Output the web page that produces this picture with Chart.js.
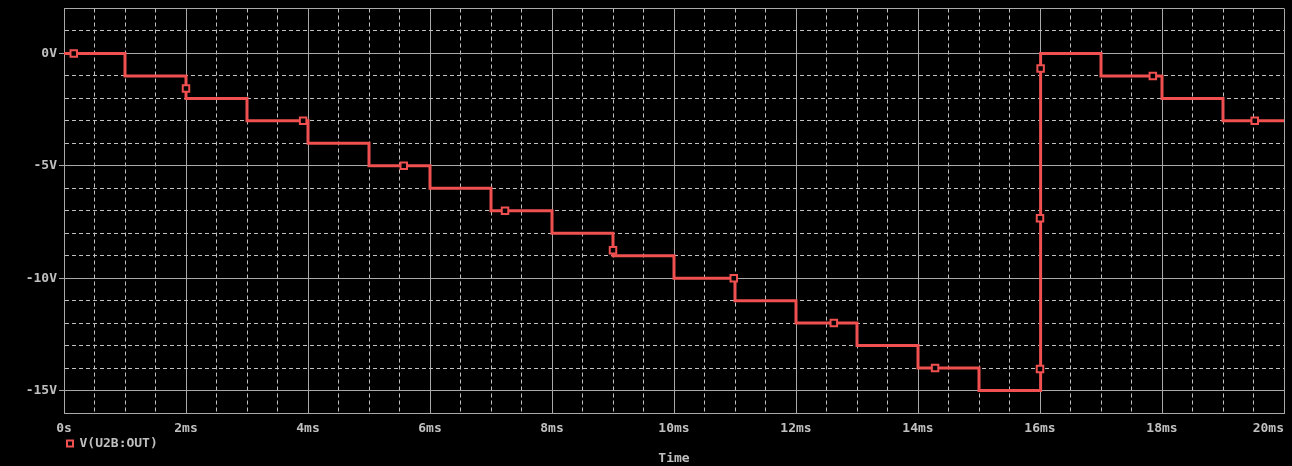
<!DOCTYPE html>
<html>
<head>
<meta charset="utf-8">
<script src="https://cdn.jsdelivr.net/npm/chart.js@4/dist/chart.umd.min.js"></script>
<style>
  html, body { margin: 0; padding: 0; background: #000; overflow: hidden; }
  #wrap { width: 1292px; height: 466px; }
</style>
</head>
<body>
<div id="wrap"><canvas id="grafico"></canvas></div>
<script>
// dados da forma de onda (tempo em ms, tensão em V)
const stepTimes  = [0, 1, 2, 3, 4, 5, 6, 7, 8, 9, 10, 11, 12, 13, 14, 15, 16.01, 17, 18, 19, 20];
const stepLevels = [0, -1, -2, -3, -4, -5, -6, -7, -8, -9, -10, -11, -12, -13, -14, -15, 0, -1, -2, -3, -3];

// marcadores quadrados que o PSpice desenha sobre o traço
const markerTimes  = [0.16, 2.0, 3.92, 5.57, 7.23, 9.0, 10.98, 12.62, 14.28, 16.0, 16.0, 16.01, 17.85, 19.52];
const markerValues = [0, -1.56, -3, -5, -7, -8.76, -10, -12, -14, -14.04, -7.33, -0.67, -1, -3];

const xTickLabels = ['0s', '2ms', '4ms', '6ms', '8ms', '10ms', '12ms', '14ms', '16ms', '18ms', '20ms'];
const yTickLabels = ['0V', '-5V', '-10V', '-15V'];
const yTickValues = [0, -5, -10, -15];

const traceName = 'V(U2B:OUT)';
const traceColor = '#f05050';
const textColor = '#c0c0c0';
const solidGrid = '#a8a8a8';
const dashGrid = '#c0c0c0';
const fonte = "'DejaVu Sans Mono', monospace";

function pontos(xs, ys) {
    return xs.map((x, i) => ({ x: x, y: ys[i] }));
}

// * rótulos do eixo X desenhados à mão (o último fica alinhado à direita, como no PSpice)
const rotulosX = {
    id: 'rotulosX',
    afterDraw(chart) {
        const scale = chart.scales.x;
        const ctx = chart.ctx;
        const last = scale.ticks.length - 1;
        ctx.save();
        ctx.font = 'bold 13px ' + fonte;
        ctx.fillStyle = textColor;
        ctx.textBaseline = 'middle';
        scale.ticks.forEach((tick, i) => {
            if (!tick.label) return;
            ctx.textAlign = i === last ? 'right' : 'center';
            ctx.fillText(tick.label, scale.getPixelForValue(tick.value), scale.top + 16);
        });
        ctx.restore();
    }
};

const ctx = document.getElementById('grafico').getContext('2d');
const grafico = new Chart(ctx, {
    type: 'line',
    data: {
        datasets: [{
            label: traceName,
            data: pontos(markerTimes, markerValues),
            showLine: false,
            pointStyle: 'rect',
            pointRadius: 4.6,
            pointBorderWidth: 2,
            pointBorderColor: traceColor,
            pointBackgroundColor: '#000',
            borderColor: traceColor,
            backgroundColor: '#000'
        }, {
            label: '',
            data: pontos(stepTimes, stepLevels),
            stepped: 'before',
            borderColor: traceColor,
            borderWidth: 3,
            pointRadius: 0,
            fill: false
        }]
    },
    options: {
        responsive: true,
        maintainAspectRatio: false,
        animation: false,
        devicePixelRatio: 1,
        layout: { padding: { top: 7, right: 8, bottom: 0.5, left: 0 } },
        scales: {
            x: {
                type: 'linear',
                min: 0,
                max: 20,
                afterFit: s => { s.height = 21; },
                ticks: {
                    display: false,
                    stepSize: 0.5,
                    callback: v => {
                        const i = xTickLabels.findIndex((t, k) => k * 2 === v);
                        return i >= 0 ? xTickLabels[i] : '';
                    }
                },
                grid: {
                    drawTicks: false,
                    lineWidth: 1,
                    color: c => (c.tick && c.tick.value % 2 === 0) ? solidGrid : dashGrid
                },
                border: {
                    color: solidGrid,
                    dash: c => (!c.tick || c.tick.value % 2 === 0) ? [] : [4, 3]
                }
            },
            y: {
                type: 'linear',
                min: -16,
                max: 2,
                afterFit: s => { s.width = 64; },
                ticks: {
                    stepSize: 1,
                    autoSkip: false,
                    padding: 2,
                    color: textColor,
                    font: { family: fonte, size: 13, weight: 'bold', lineHeight: 1 },
                    callback: v => {
                        const i = yTickValues.indexOf(v);
                        return i >= 0 ? yTickLabels[i] : '';
                    }
                },
                grid: {
                    tickLength: 5,
                    lineWidth: 1,
                    color: c => (c.tick && (c.tick.value % 5 === 0 || c.tick.value === 2)) ? solidGrid : dashGrid,
                    tickColor: c => (c.tick && c.tick.value % 5 === 0) ? solidGrid : 'transparent'
                },
                border: {
                    color: solidGrid,
                    dash: c => (!c.tick || c.tick.value % 5 === 0 || c.tick.value === 2) ? [] : [4, 3]
                }
            }
        },
        plugins: {
            legend: {
                position: 'bottom',
                align: 'start',
                fullSize: false,
                labels: {
                    usePointStyle: true,
                    boxHeight: 6,
                    boxWidth: 6,
                    padding: 3,
                    color: textColor,
                    font: { family: fonte, size: 13, weight: 'bold' },
                    filter: item => item.datasetIndex === 0
                }
            },
            title: {
                display: true,
                text: 'Time',
                position: 'bottom',
                fullSize: false,
                color: textColor,
                font: { family: fonte, size: 13, weight: 'bold', lineHeight: 1 },
                padding: { top: -7.5, bottom: 0 }
            },
            tooltip: { enabled: false }
        }
    },
    plugins: [rotulosX]
});
</script>
</body>
</html>
